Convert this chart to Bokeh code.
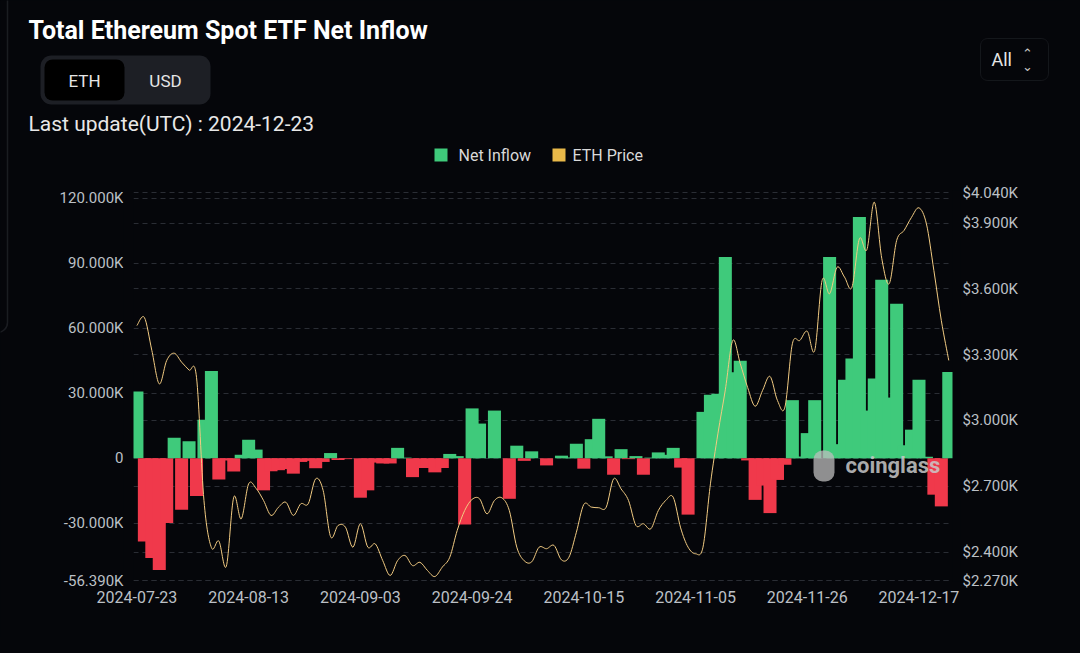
from bokeh.plotting import figure
from bokeh.models import (Range1d, LinearAxis, FixedTicker, Grid, Label,
                          BoxAnnotation, ColumnDataSource)
from bokeh.embed import file_html
from bokeh.resources import INLINE

# ---------------- data ----------------
dates = [
    "2024-07-23", "2024-07-24", "2024-07-25", "2024-07-26", "2024-07-29", "2024-07-30", "2024-07-31",
    "2024-08-01", "2024-08-02", "2024-08-05", "2024-08-06", "2024-08-07", "2024-08-08", "2024-08-09",
    "2024-08-12", "2024-08-13", "2024-08-14", "2024-08-15", "2024-08-16", "2024-08-19", "2024-08-20",
    "2024-08-21", "2024-08-22", "2024-08-23", "2024-08-26", "2024-08-27", "2024-08-28", "2024-08-29",
    "2024-08-30", "2024-09-02", "2024-09-03", "2024-09-04", "2024-09-05", "2024-09-06", "2024-09-09",
    "2024-09-10", "2024-09-11", "2024-09-12", "2024-09-13", "2024-09-16", "2024-09-17", "2024-09-18",
    "2024-09-19", "2024-09-20", "2024-09-23", "2024-09-24", "2024-09-25", "2024-09-26", "2024-09-27",
    "2024-09-30", "2024-10-01", "2024-10-02", "2024-10-03", "2024-10-04", "2024-10-07", "2024-10-08",
    "2024-10-09", "2024-10-10", "2024-10-11", "2024-10-14", "2024-10-15", "2024-10-16", "2024-10-17",
    "2024-10-18", "2024-10-21", "2024-10-22", "2024-10-23", "2024-10-24", "2024-10-25", "2024-10-28",
    "2024-10-29", "2024-10-30", "2024-10-31", "2024-11-01", "2024-11-04", "2024-11-05", "2024-11-06",
    "2024-11-07", "2024-11-08", "2024-11-11", "2024-11-12", "2024-11-13", "2024-11-14", "2024-11-15",
    "2024-11-18", "2024-11-19", "2024-11-20", "2024-11-21", "2024-11-22", "2024-11-25", "2024-11-26",
    "2024-11-27", "2024-11-28", "2024-11-29", "2024-12-02", "2024-12-03", "2024-12-04", "2024-12-05",
    "2024-12-06", "2024-12-09", "2024-12-10", "2024-12-11", "2024-12-12", "2024-12-13", "2024-12-16",
    "2024-12-17", "2024-12-18", "2024-12-19", "2024-12-20", "2024-12-23",
]

# net inflow, thousands of ETH
inflow_k = [
    30.8, -38.4, -46.0, -51.5, -29.9, 9.5, -23.7, 7.8, -17.4, 17.8,
    40.3, -9.8, -1.0, -6.1, 1.6, 8.5, 4.0, -14.8, -6.0, -5.5,
    -5.0, -7.1, -1.7, -1.2, -4.6, -1.7, 2.4, -0.8, -0.4, 0.0,
    -18.2, -14.8, -2.0, -2.4, -2.4, 4.8, 0.3, -8.7, -4.5, -4.5,
    -6.5, -4.5, 2.0, 1.0, -30.5, 23.0, 16.0, 0.0, 22.0, 0.0,
    -18.7, 5.8, -1.2, 3.2, 0.0, -3.3, 0.0, 1.2, 0.4, 6.7,
    -4.8, 8.8, 18.2, 0.9, -7.6, 4.2, -0.4, 1.0, -7.6, 0.3,
    2.7, 1.6, 4.8, -4.3, -26.0, 0.0, 21.4, 29.3, 29.8, 92.9,
    39.7, 45.0, -1.0, -19.2, -12.6, -25.3, -10.0, -3.0, 26.8, 0.8,
    11.6, 26.8, 0.0, 92.9, 6.5, 36.2, 46.0, 111.3, 22.0, 36.8,
    82.4, 28.0, 71.3, 6.0, 13.2, 36.2, 0.7, -16.8, -22.2, 39.8,
]

# ETH price, USD
eth_price = [
    3433, 3470, 3320, 3167, 3274, 3307, 3266, 3230, 3197, 2635,
    2420, 2450, 2335, 2650, 2551, 2711, 2690, 2635, 2567, 2604,
    2627, 2567, 2620, 2620, 2734, 2681, 2470, 2521, 2513, 2422,
    2529, 2422, 2437, 2361, 2293, 2361, 2384, 2338, 2353, 2316,
    2288, 2331, 2376, 2498, 2589, 2640, 2643, 2574, 2635, 2647,
    2589, 2422, 2360, 2355, 2422, 2415, 2430, 2364, 2376, 2490,
    2617, 2605, 2602, 2604, 2734, 2688, 2635, 2521, 2529, 2506,
    2589, 2635, 2650, 2510, 2422, 2392, 2422, 2711, 2939, 3140,
    3365, 3260, 3150, 3065, 3137, 3201, 3091, 3061, 3350, 3365,
    3407, 3319, 3640, 3578, 3699, 3654, 3608, 3829, 3779, 3996,
    3740, 3624, 3821, 3867, 3927, 3970, 3897, 3684, 3456, 3274,
]

left_ticks = [-56390, -30000, 0, 30000, 60000, 90000, 120000]
left_labels = ["-56.390K", "-30.000K", "0", "30.000K", "60.000K", "90.000K", "120.000K"]
right_ticks = [2270, 2400, 2700, 3000, 3300, 3600, 3900, 4040]
right_labels = ["$2.270K", "$2.400K", "$2.700K", "$3.000K", "$3.300K", "$3.600K", "$3.900K", "$4.040K"]
x_tick_dates = ["2024-07-23", "2024-08-13", "2024-09-03", "2024-09-24",
                "2024-10-15", "2024-11-05", "2024-11-26", "2024-12-17"]

# ---------------- layout / style ----------------
W, H = 1064, 637
# plot area in page pixels and the data extents it shows
PX_L, PX_R, PX_T, PX_B = 133, 952, 192, 580
X_LO, X_HI = -0.46, 109.5
Y_LO, Y_HI = -56390, 122600
P_LO, P_HI = 2270, 4040

BG = "#05060a"
GREEN = "#3fca7b"
RED = "#f0394b"
PRICE = "#f2cb82"
GRID = "#2a2d34"
TICK = "#bcc0c6"
FONT = "Roboto"


def extend(lo, hi, p_lo, p_hi, full, flip=False):
    """data range covering the whole canvas, given the plot-area mapping"""
    per_px = (hi - lo) / (p_hi - p_lo)
    if flip:  # vertical: p_lo is the top pixel (value hi), p_hi the bottom (value lo)
        return Range1d(lo - (full - p_hi) * per_px, hi + p_lo * per_px)
    return Range1d(lo - p_lo * per_px, hi + (full - p_hi) * per_px)


n = len(dates)
idx = list(range(n))
inflow = [v * 1000 for v in inflow_k]
colors = [GREEN if v >= 0 else RED for v in inflow]

p = figure(width=W, height=H, output_backend="svg", toolbar_location=None,
           x_range=extend(X_LO, X_HI, PX_L, PX_R, W),
           y_range=extend(Y_LO, Y_HI, PX_T, PX_B, H, flip=True),
           min_border=0, min_border_left=0, min_border_right=0,
           min_border_top=0, min_border_bottom=0,
           background_fill_color=BG, border_fill_color=BG,
           outline_line_color=None)
p.extra_y_ranges = {"price": extend(P_LO, P_HI, PX_T, PX_B, H, flip=True)}

# axes, pinned to the plot-area edges
xax = p.xaxis[0]
xax.ticker = FixedTicker(ticks=[dates.index(d) for d in x_tick_dates])
xax.major_label_overrides = {dates.index(d): d for d in x_tick_dates}
xax.fixed_location = Y_LO
yax = p.yaxis[0]
yax.ticker = FixedTicker(ticks=left_ticks)
yax.major_label_overrides = dict(zip(left_ticks, left_labels))
yax.fixed_location = X_LO
rax = LinearAxis(y_range_name="price", ticker=FixedTicker(ticks=right_ticks),
                 major_label_overrides=dict(zip(right_ticks, right_labels)),
                 fixed_location=X_HI)
p.add_layout(rax, "right")
for ax in (xax, yax, rax):
    ax.axis_line_color = None
    ax.major_tick_line_color = None
    ax.minor_tick_line_color = None
    ax.major_tick_out = 0
    ax.major_tick_in = 0
    ax.major_label_text_color = TICK
    ax.major_label_text_font = FONT
    ax.major_label_text_font_size = "15px"
    ax.major_label_standoff = 10
xax.major_label_text_font_size = "16px"

p.xgrid.visible = False
p.ygrid.grid_line_color = GRID
p.ygrid.grid_line_dash = "5 4"
p.ygrid.grid_line_width = 1
p.ygrid.cross_bounds = (X_LO, X_HI)
rgrid = Grid(dimension=1, ticker=rax.ticker, y_range_name="price",
             grid_line_color=GRID, grid_line_dash="5 4", grid_line_width=1,
             cross_bounds=(X_LO, X_HI))
p.add_layout(rgrid)

# bars
src = ColumnDataSource(dict(x=idx, v=inflow, c=colors))
p.vbar(x="x", top="v", bottom=0, width=1.75, fill_color="c", line_color=None,
       source=src)

# smooth price curve (Catmull-Rom through the data points)
x0, y0, x1, y1, cx0, cy0, cx1, cy1 = [], [], [], [], [], [], [], []
for i in range(n - 1):
    im1 = max(i - 1, 0)
    ip2 = min(i + 2, n - 1)
    x0.append(idx[i]); y0.append(eth_price[i])
    x1.append(idx[i + 1]); y1.append(eth_price[i + 1])
    cx0.append(idx[i] + (idx[i + 1] - idx[im1]) / 6)
    cy0.append(eth_price[i] + (eth_price[i + 1] - eth_price[im1]) / 6)
    cx1.append(idx[i + 1] - (idx[ip2] - idx[i]) / 6)
    cy1.append(eth_price[i + 1] - (eth_price[ip2] - eth_price[i]) / 6)
p.bezier(x0=x0, y0=y0, x1=x1, y1=y1, cx0=cx0, cy0=cy0, cx1=cx1, cy1=cy1,
         y_range_name="price", line_color=PRICE, line_width=1.0)


# ---------------- decorations (page pixel coords, y from top) ----------------
def lab(X, Y, text, size, color, bold=False, align="left", alpha=1.0, font=FONT):
    p.add_layout(Label(x=X, y=H - Y, x_units="screen", y_units="screen",
                       text=text, text_font=font, text_font_size=f"{size}px",
                       text_color=color, text_alpha=alpha,
                       text_font_style="bold" if bold else "normal",
                       text_align=align, text_baseline="middle"))


def box(X0, Y0, X1, Y1, fill, line=None, radius=0, alpha=1.0, lw=1):
    p.add_layout(BoxAnnotation(left=X0, right=X1, top=H - Y0, bottom=H - Y1,
                               left_units="screen", right_units="screen",
                               top_units="screen", bottom_units="screen",
                               fill_color=fill, fill_alpha=alpha,
                               line_color=line, line_width=lw,
                               border_radius=radius))


# masks so the end bars stop at the plot-area edges
box(PX_L - 10, PX_T - 2, PX_L, PX_B + 1, BG)
box(PX_R, PX_T - 2, PX_R + 8, PX_B + 1, BG)

# edge of the neighbouring panel on the left
box(-30, -20, 7, 332, BG, line="#50535a", radius=10, lw=1.5)

lab(28, 30, "Total Ethereum Spot ETF Net Inflow", 25, "#ffffff", bold=True)
box(40, 55, 210, 104, "#1d1f25", radius=11)
box(44, 59, 124, 100, "#000000", radius=8)
lab(84, 80, "ETH", 17, "#e6e6e6", align="center")
lab(165, 80, "USD", 17, "#e6e6e6", align="center")
lab(28, 123, "Last update(UTC) : 2024-12-23", 21, "#e8e8e8")

box(434, 148, 447, 161, GREEN)
lab(458, 155, "Net Inflow", 16, "#d9d9d9")
box(552, 148, 565, 161, "#e9b949")
lab(572, 155, "ETH Price", 16, "#d9d9d9")

box(980, 38, 1048, 80, BG, line="#3d4046", radius=7)
lab(991, 59, "All", 18, "#e6e6e6")
lab(1027, 53, "\u2303", 13, "#c8c8c8", align="center", font="DejaVu Sans")
lab(1027, 66, "\u2304", 13, "#c8c8c8", align="center", font="DejaVu Sans")

# watermark
box(813, 450, 834, 481, "#bdbdbd", radius=9, alpha=0.75)
lab(845, 465, "coinglass", 22, "#c9c9c9", bold=True, alpha=0.85)

html = file_html(p, INLINE)
html = html.replace("</head>",
                    "<style>html,body{background:#05060a;margin:0;}</style></head>", 1)
open("out.html", "w").write(html)
